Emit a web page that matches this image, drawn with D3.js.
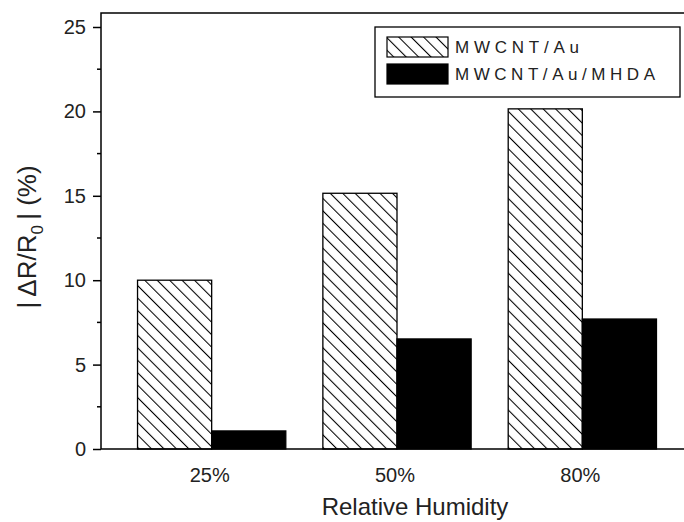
<!DOCTYPE html>
<html>
<head>
<meta charset="utf-8">
<script src="https://cdn.jsdelivr.net/npm/d3@7"></script>
<style>
  body { margin: 0; background: #fff; }
  text { font-family: "Liberation Sans", Arial, sans-serif; }
</style>
</head>
<body>
<div id="vis"></div>
<script>
// data
const humidity = ['25%', '50%', '80%']
const seriesNames = ['MWCNT/Au', 'MWCNT/Au/MHDA']
const mwcntAu = [10.0, 15.15, 20.15]
const mwcntAuMhda = [1.07, 6.52, 7.7]
const yTicks = [0, 5, 10, 15, 20, 25]

const W = 684, H = 522
const left = 101, bottom = 449

let svg = d3.select('#vis').append('svg')
  .attr('width', W)
  .attr('height', H)

// hatch pattern (\\\)
svg.append('defs').append('pattern')
  .attr('id', 'hatch')
  .attr('patternUnits', 'userSpaceOnUse')
  .attr('width', 8.8)
  .attr('height', 8.8)
  .attr('patternTransform', 'rotate(-45)')
  .append('line')
  .attr('x1', 0.5).attr('y1', 0)
  .attr('x2', 0.5).attr('y2', 8.8)
  .attr('stroke', '#000')
  .attr('stroke-width', 1.1)

const yScale = d3.scaleLinear([0, 25], [bottom, 27])
const xScale = d3.scaleBand(humidity, [119, 675]).paddingInner(0.2).paddingOuter(0.1)
const subScale = d3.scaleBand([0, 1], [0, xScale.bandwidth()])
const fills = ['url(#hatch)', '#000']

const rows = humidity.map((h, i) => ({ h: h, vals: [mwcntAu[i], mwcntAuMhda[i]] }))

// bars
svg.selectAll('g.grp')
  .data(rows).enter()
  .append('g')
  .attr('class', 'grp')
  .attr('transform', d => `translate(${xScale(d.h)},0)`)
  .selectAll('rect')
  .data(d => d.vals.map((v, k) => ({ v: v, k: k })))
  .enter()
  .append('rect')
  .attr('x', d => subScale(d.k))
  .attr('width', subScale.bandwidth())
  .attr('y', d => yScale(d.v))
  .attr('height', d => bottom - yScale(d.v))
  .attr('fill', d => fills[d.k])
  .attr('stroke', '#000')
  .attr('stroke-width', 1.3)

// frame: left, top, bottom
const topY = yScale(25.83)
svg.append('path')
  .attr('d', `M${W},${topY}H${left}V${bottom}H${W}`)
  .attr('fill', 'none')
  .attr('stroke', '#000')
  .attr('stroke-width', 1.5)

// y axis ticks
let yAxis = d3.axisLeft(yScale).tickValues(yTicks).tickSize(8).tickPadding(7)
let gy = svg.append('g')
  .attr('transform', `translate(${left},0)`)
  .call(yAxis)
gy.select('.domain').remove()
gy.selectAll('line').attr('stroke-width', 1.5)
gy.selectAll('text')
  .attr('font-size', 20)
  .attr('fill', '#222')
  .attr('font-family', '"Liberation Sans", Arial, sans-serif')

// minor ticks
svg.selectAll('.minor')
  .data(d3.range(2.5, 25, 5)).enter()
  .append('line')
  .attr('class', 'minor')
  .attr('x1', left - 4).attr('x2', left)
  .attr('y1', d => yScale(d)).attr('y2', d => yScale(d))
  .attr('stroke', '#000')
  .attr('stroke-width', 1.5)

// x labels
svg.selectAll('.xlab')
  .data(humidity).enter()
  .append('text')
  .attr('class', 'xlab')
  .attr('x', d => xScale(d) + xScale.bandwidth() / 2 - 2)
  .attr('y', 482)
  .attr('text-anchor', 'middle')
  .attr('font-size', 20)
  .attr('fill', '#222')
  .text(d => d)

svg.append('text')
  .attr('x', 415)
  .attr('y', 515)
  .attr('text-anchor', 'middle')
  .attr('font-size', 24)
  .attr('fill', '#222')
  .text('Relative Humidity')

// y label
let yl = svg.append('text')
  .attr('transform', 'translate(36,237) rotate(-90)')
  .attr('text-anchor', 'middle')
  .attr('font-size', 26)
  .attr('fill', '#222')
yl.append('tspan').text('|\u2009ΔR/R')
yl.append('tspan').attr('font-size', 17).attr('dy', 7).text('0')
yl.append('tspan').attr('dy', -7).text('\u2009| (%)')

// legend
let lg = svg.append('g')
lg.append('rect')
  .attr('x', 375).attr('y', 27)
  .attr('width', 305).attr('height', 70)
  .attr('fill', '#fff')
  .attr('stroke', '#000')
  .attr('stroke-width', 1.3)

lg.selectAll('.sw')
  .data(seriesNames).enter()
  .append('rect')
  .attr('class', 'sw')
  .attr('x', 387)
  .attr('y', (d, i) => 37 + i * 27)
  .attr('width', 61)
  .attr('height', 20)
  .attr('fill', (d, i) => fills[i])
  .attr('stroke', '#000')
  .attr('stroke-width', 1.2)

const legendWidths = [124, 200]
lg.selectAll('.lt')
  .data(seriesNames).enter()
  .append('text')
  .attr('class', 'lt')
  .attr('x', 455)
  .attr('y', (d, i) => 53 + i * 27)
  .attr('font-size', 17)
  .attr('textLength', (d, i) => legendWidths[i])
  .attr('lengthAdjust', 'spacing')
  .attr('fill', '#222')
  .text(d => d)
</script>
</body>
</html>
